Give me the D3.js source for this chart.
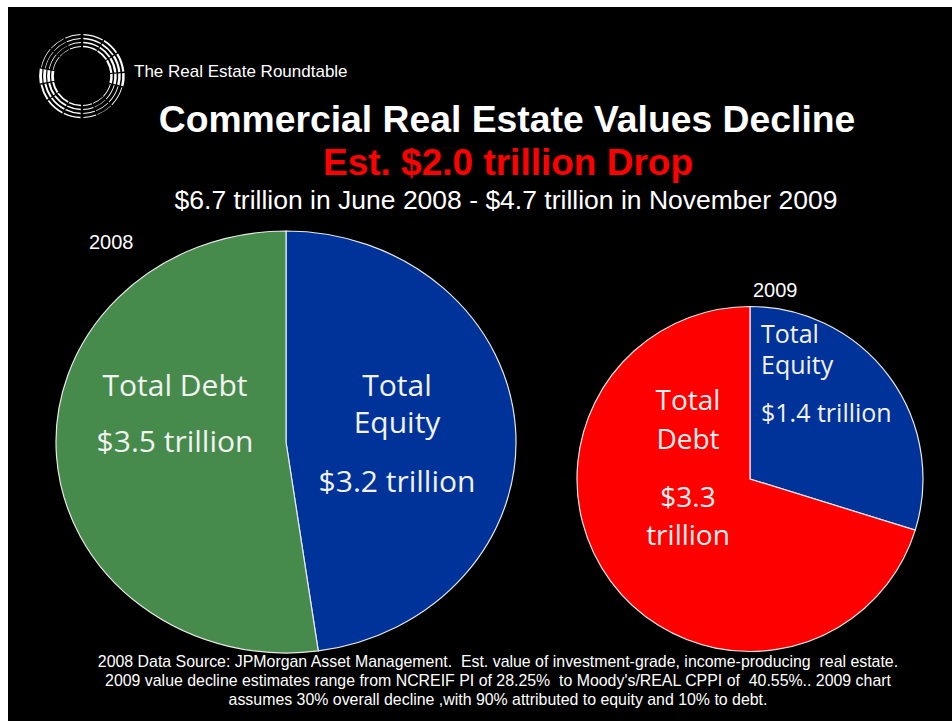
<!DOCTYPE html>
<html>
<head>
<meta charset="utf-8">
<script src="https://cdn.jsdelivr.net/npm/d3@7"></script>
<style>
  html, body { margin: 0; padding: 0; background: #ffffff; }
  svg { display: block; }
  text { white-space: pre; }
</style>
</head>
<body>
<svg id="chart" width="952" height="721"></svg>
<script>
// Commercial real estate value, split into equity and debt (trillions of US$)
const segments = ["Total Equity", "Total Debt"];
const values2008 = [3.2, 3.5];
const values2009 = [1.4, 3.3];
const yearLabels = ["2008", "2009"];

const brand = "The Real Estate Roundtable";
const title = "Commercial Real Estate Values Decline";
const headline = "Est. $2.0 trillion Drop";
const subtitle = "$6.7 trillion in June 2008 - $4.7 trillion in November 2009";
const footnote = [
  "2008 Data Source: JPMorgan Asset Management.  Est. value of investment-grade, income-producing  real estate.",
  "2009 value decline estimates range from NCREIF PI of 28.25%  to Moody's/REAL CPPI of  40.55%.. 2009 chart",
  "assumes 30% overall decline ,with 90% attributed to equity and 10% to debt."
];

const svg = d3.select("#chart");
const W = 952, H = 721;
const sans = "'Liberation Sans', Arial, sans-serif";
const labelFont = "'Open Sans', 'Noto Sans', sans-serif";

// slide background
svg.append("rect").attr("x", 8).attr("y", 7).attr("width", W - 8).attr("height", H - 7).attr("fill", "#000");

// ---- logo: concentric broken rings ----
const logo = svg.append("g").attr("transform", "translate(82,76)");
const logoSegs = [
  [2, 30, 1.3], [32, 56, 1.7], [58, 84, 2.2], [86, 104, 2.5],
  [106, 134, 0.9], [136, 158, 0.6], [160, 178, 0.9], [182, 206, 1.4],
  [208, 234, 1.7], [236, 258, 2.0], [260, 280, 2.8], [282, 310, 0.7],
  [312, 334, 0.5], [336, 358, 1.0]
];
const ringRadii = [29.5, 33.5, 37.5, 41.5];
const logoArc = d3.arc();
ringRadii.forEach(r => {
  logoSegs.forEach(([a0, a1, w]) => {
    logo.append("path")
      .attr("d", logoArc({
        innerRadius: r - w / 2, outerRadius: r + w / 2,
        startAngle: a0 * Math.PI / 180, endAngle: a1 * Math.PI / 180
      }))
      .attr("fill", "#fff");
  });
});
svg.append("text").attr("x", 134).attr("y", 77)
  .attr("font-family", sans).attr("font-size", 17).attr("fill", "#fff")
  .text(brand);

// ---- titles ----
svg.append("text").attr("x", 507).attr("y", 132).attr("text-anchor", "middle")
  .attr("font-family", sans).attr("font-weight", "bold").attr("font-size", 37.3)
  .attr("fill", "#fff").text(title);
svg.append("text").attr("x", 508).attr("y", 175).attr("text-anchor", "middle")
  .attr("font-family", sans).attr("font-weight", "bold").attr("font-size", 37)
  .attr("fill", "#ff0000").text(headline);
svg.append("text").attr("x", 506).attr("y", 209).attr("text-anchor", "middle")
  .attr("font-family", sans).attr("font-size", 26.5).attr("fill", "#fff").text(subtitle);

// ---- pies ----
const pie = d3.pie().sort(null).value(d => d.value);
const arc = d3.arc().innerRadius(0);

function drawPie(values, colors, cx, cy, rx, ry) {
  const data = segments.map((name, i) => ({ name, value: values[i] }));
  const g = svg.append("g")
    .attr("transform", `translate(${cx},${cy}) scale(${rx / ry},1)`);
  g.selectAll("path")
    .data(pie(data))
    .join("path")
    .attr("d", d => arc.outerRadius(ry)(d))
    .attr("fill", (d, i) => colors[i])
    .attr("stroke", "#e8e8e8")
    .attr("stroke-width", 1.2)
    .attr("vector-effect", "non-scaling-stroke");
}

drawPie(values2008, ["#003399", "#468a4c"], 286, 442, 230, 211);
drawPie(values2009, ["#003399", "#ff0000"], 750, 479, 173, 172.5);

// year captions
svg.append("text").attr("x", 89).attr("y", 249)
  .attr("font-family", sans).attr("font-size", 20).attr("fill", "#fff").text(yearLabels[0]);
svg.append("text").attr("x", 753).attr("y", 297)
  .attr("font-family", sans).attr("font-size", 20).attr("fill", "#fff").text(yearLabels[1]);

// slice labels: one text element per label, one tspan per line
function label(lines, x, anchor, size) {
  const t = svg.append("text").attr("text-anchor", anchor)
    .attr("font-family", labelFont).attr("font-size", size)
    .attr("fill", "#f2f2f2");
  lines.forEach(([s, y]) => {
    t.append("tspan").attr("x", x).attr("y", y).text(s);
  });
}
const fmt = v => `$${d3.format(".1f")(v)} trillion`;

label([[segments[1], 396], [fmt(values2008[1]), 452]], 175, "middle", 30);
label([["Total", 396], ["Equity", 433], [fmt(values2008[0]), 492]], 397, "middle", 30);
label([["Total", 410], ["Debt", 449], [`$${d3.format(".1f")(values2009[1])}`, 507], ["trillion", 545]], 688, "middle", 28);
label([["Total", 343], ["Equity", 374], [fmt(values2009[0]), 422]], 761, "start", 25);

// footnote
footnote.forEach((t, i) => {
  svg.append("text").attr("x", 498).attr("y", 667 + i * 19).attr("text-anchor", "middle")
    .attr("font-family", sans).attr("font-size", 15.9).attr("fill", "#fff").text(t);
});
</script>
</body>
</html>
